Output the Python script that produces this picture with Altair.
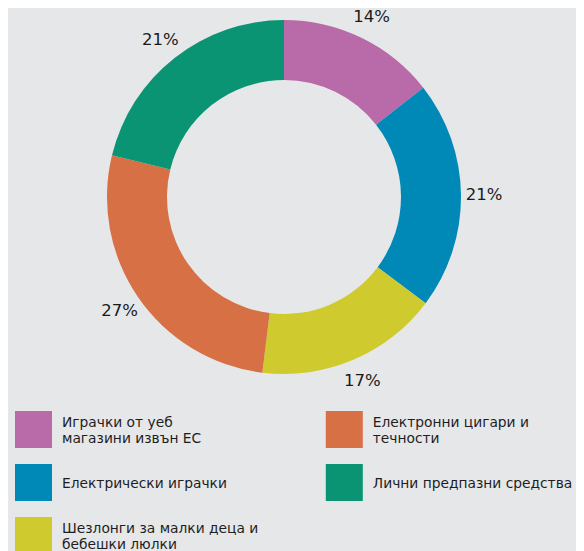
import altair as alt
import pandas as pd

categories = [
    "Играчки от уеб\nмагазини извън ЕС",
    "Електрически играчки",
    "Шезлонги за малки деца и\nбебешки люлки",
    "Електронни цигари и\nтечности",
    "Лични предпазни средства",
]
shares = [14.4, 20.8, 16.7, 26.8, 21.2]
share_labels = ["14%", "21%", "17%", "27%", "21%"]
colors = ["#b86ba8", "#0088b7", "#cfcb2f", "#d77044", "#0a9474"]
legend_col = [0, 0, 0, 1, 1]
legend_row = [0, 1, 2, 0, 1]

df = pd.DataFrame({
    "cat": categories,
    "share": shares,
    "label": share_labels,
    "order": list(range(len(categories))),
    "col": legend_col,
    "row": legend_row,
})
df["nlines"] = df["cat"].str.count("\n") + 1

color = alt.Color("cat:N", scale=alt.Scale(domain=categories, range=colors), legend=None)
theta = alt.Theta("share:Q", stack=True)
order = alt.Order("order:Q")

base = alt.Chart(df)

arc = base.mark_arc(innerRadius=117, outerRadius=177, strokeWidth=0).encode(
    theta=theta, order=order, color=color,
    x=alt.value(276), y=alt.value(189),
)

labels = base.mark_text(radius=200, fontSize=16.5, font="DejaVu Sans", color="#1a1a1a").encode(
    theta=theta, order=order, text="label:N",
    x=alt.value(276), y=alt.value(189),
)

xs = alt.X("col:Q", scale=alt.Scale(domain=[0, 1], range=[25.5, 336.3], nice=False, zero=False), axis=None)
ys = alt.Y("row:Q", scale=alt.Scale(domain=[0, 2], range=[421.5, 527.5], nice=False, zero=False), axis=None)

squares = base.mark_square(size=1369, opacity=1, filled=True, strokeWidth=0).encode(
    x=xs, y=ys, color=color,
)

text_style = dict(
    align="left", baseline="middle", dx=28.5, fontSize=13.8, lineHeight=15.3,
    lineBreak="\n", font="DejaVu Sans", color="#1e1e1e",
)

legend_single = base.transform_filter("datum.nlines == 1").mark_text(dy=1.5, **text_style).encode(
    x=xs, y=ys, text="cat:N",
)
legend_double = base.transform_filter("datum.nlines == 2").mark_text(dy=-6.2, **text_style).encode(
    x=xs, y=ys, text="cat:N",
)

chart = alt.layer(arc, labels, squares, legend_single, legend_double).properties(
    width=568, height=545, background="#e6e7e9",
    autosize=alt.AutoSizeParams(type="none"), padding=0,
).configure_view(stroke=None)

chart.save("out.html", embed_options={"renderer": "svg", "actions": False})
